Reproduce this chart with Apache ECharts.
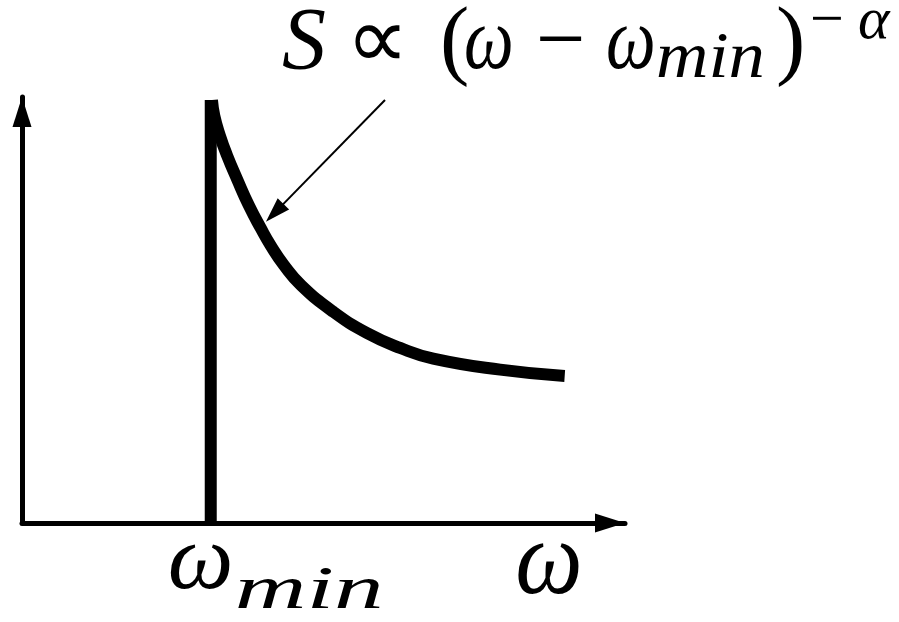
<!DOCTYPE html>
<html>
<head>
<meta charset="utf-8">
<script src="https://cdn.jsdelivr.net/npm/echarts@6/dist/echarts.min.js"></script>
<style>
  html, body { margin: 0; padding: 0; background: #ffffff; }
  #wrap { position: relative; width: 899px; height: 622px; }
  #chart, #text { position: absolute; left: 0; top: 0; width: 899px; height: 622px; }
  #text { pointer-events: none; }
</style>
</head>
<body>
<div id="wrap">
  <div id="chart"></div>
  <div id="text"></div>
</div>
<script>
// Cutoff frequency and the height of the spectrum at the cutoff
const omegaMin = 31.3;
const spikeTop = 99.3;

// Power-law tail of the spectrum, sampled along omega
const tailOmega = [31.5, 31.9, 32.8, 34.0, 35.7, 37.6, 39.6, 41.3, 43.4, 46.3, 51.6, 57.2, 62.7, 68.2, 79.3, 90.0];
const tailS     = [99.3, 95.5, 91.0, 86.3, 80.6, 74.6, 69.2, 65.0, 60.6, 55.8, 49.6, 44.6, 41.1, 38.6, 36.0, 34.5];

// Annotation arrow: from under the formula down to the tail
const arrowFrom = [60.2, 99.3];
const arrowTo   = [41.9, 72.8];

// Axis labels along omega
const tickValues = [omegaMin, 87.1];
const tickMain   = ['ω', 'ω'];
const tickSub    = ['min', ''];

const CHART_W = 899;
const GRID = { left: 22, right: 274, top: 97, bottom: 99 };
const X_MIN = 0, X_MAX = 100;
const SERIF = '"Liberation Serif"';

// A text piece with its left edge, alphabetic baseline and horizontal stretch
function piece(text, left, baseline, size, italic, sx) {
  return {
    type: 'text',
    x: left,
    y: baseline - 0.8375 * size,
    scaleX: sx || 1,
    style: {
      text: text,
      font: (italic ? 'italic ' : '') + size + 'px ' + SERIF,
      fill: '#000'
    }
  };
}

// Formula S ∝ (ω − ω_min)^−α
const formula = [
  piece('S',   282, 75, 88, true),
  piece('∝',   346, 75, 88, false),
  piece('(',   440, 75, 88, false),
  piece('ω',   464, 75, 88, true, 0.8),
  piece('−',   536, 75, 88, false),
  piece('ω',   606, 75, 88, true, 0.8),
  piece('min', 656, 82, 66, true, 1.1),
  piece(')',   776, 75, 88, false),
  piece('−',   810, 42, 60, false),
  piece('α',   858, 42, 60, true)
];

// Labels under the omega axis, anchored at their positions on the axis
const plotW = CHART_W - GRID.left - GRID.right;
const labels = [];
tickValues.forEach((v, i) => {
  const px = GRID.left + (v - X_MIN) / (X_MAX - X_MIN) * plotW;
  if (tickSub[i]) {
    labels.push(piece(tickMain[i], px - 43, 595, 93, true));
    labels.push(piece(tickSub[i], px + 24, 613, 62, true, 1.6));
  } else {
    labels.push(piece(tickMain[i], px - 32, 601, 106, true, 0.9));
  }
});

// Text layer: formula and axis labels, drawn on its own transparent chart above the plot
const textLayer = echarts.init(document.getElementById('text'), null, { renderer: 'canvas' });
textLayer.setOption({
  animation: false,
  backgroundColor: 'transparent',
  graphic: { elements: formula.concat(labels) }
});

// Plot layer: axes, cutoff line, power-law tail and the pointer arrow
const axisCommon = {
  type: 'value',
  axisLine: {
    show: true,
    lineStyle: { color: '#000', width: 5 },
    symbol: ['none', 'triangle'],
    symbolSize: [19, 30],
    symbolOffset: [0, -15]
  },
  axisTick: { show: false },
  axisLabel: { show: false },
  splitLine: { show: false }
};

const chart = echarts.init(document.getElementById('chart'), null, { renderer: 'canvas' });
chart.setOption({
  animation: false,
  backgroundColor: '#ffffff',
  grid: GRID,
  xAxis: Object.assign({ min: X_MIN, max: X_MAX }, axisCommon),
  yAxis: Object.assign({ min: 0, max: 100 }, axisCommon),
  series: [
    {
      type: 'line',
      name: 'cutoff',
      data: [[omegaMin, 0], [omegaMin, spikeTop]],
      showSymbol: false,
      silent: true,
      clip: false,
      lineStyle: { color: '#000', width: 12, cap: 'butt' }
    },
    {
      type: 'line',
      name: 'tail',
      data: tailOmega.map((w, i) => [w, tailS[i]]),
      smooth: 0.5,
      showSymbol: false,
      silent: true,
      clip: false,
      lineStyle: { color: '#000', width: 12, cap: 'butt' },
      markLine: {
        silent: true,
        animation: false,
        symbol: ['none', 'triangle'],
        symbolSize: [16, 25],
        label: { show: false },
        emphasis: { disabled: true },
        lineStyle: { color: '#000', width: 2, type: 'solid' },
        itemStyle: { color: '#000' },
        data: [[{ coord: arrowFrom }, { coord: arrowTo }]]
      }
    }
  ]
});
</script>
</body>
</html>
